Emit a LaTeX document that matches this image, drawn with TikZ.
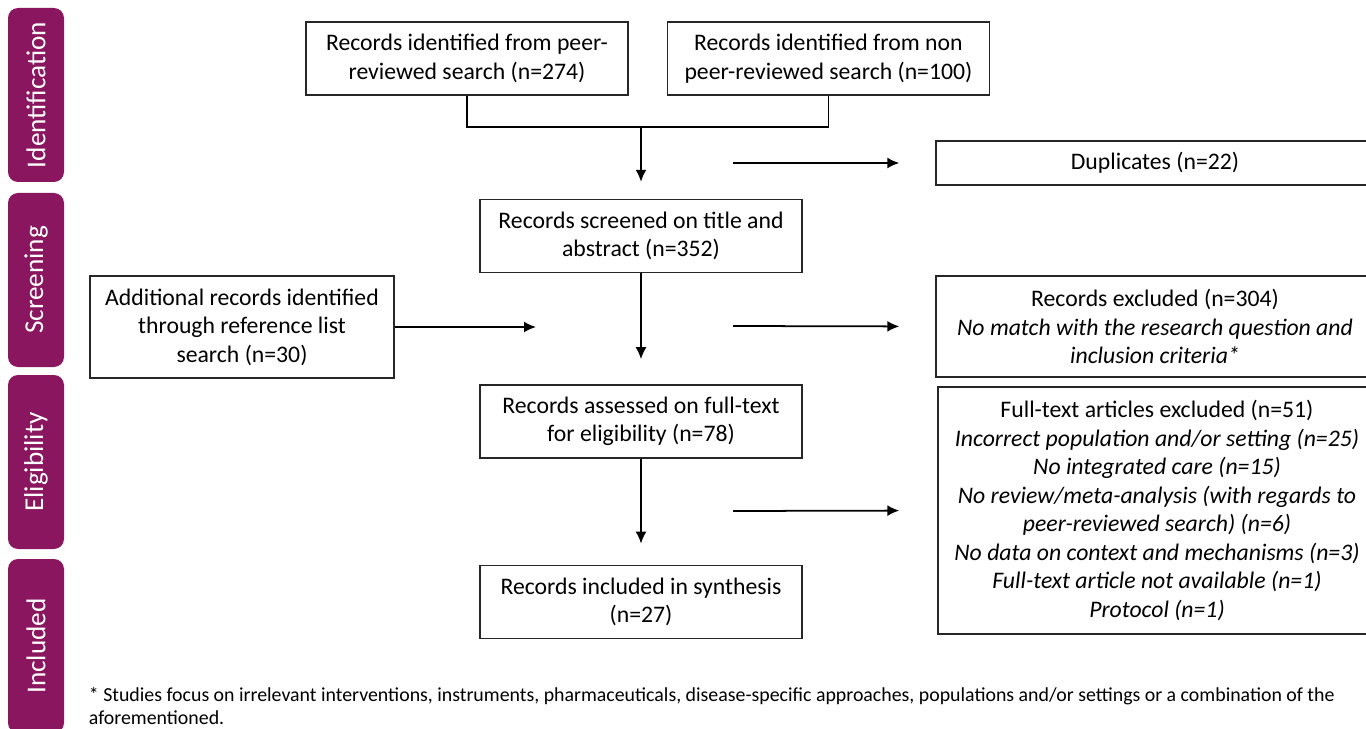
\documentclass[tikz,border=0pt]{standalone}
\usepackage{fontspec}
\setmainfont{Carlito}
\usetikzlibrary{arrows.meta}
\usetikzlibrary{positioning}
\definecolor{phasepurple}{RGB}{137,22,95}

\begin{document}
\begin{tikzpicture}[->,>={Latex[length=2.4mm,width=2.2mm]},line width=1pt,
  box/.style={draw=black!85,line width=0.8pt,minimum width=6.44cm,minimum height=1.46cm,
    align=center,inner sep=2pt,font=\fontsize{13.5}{16.2}\selectfont},
  side box/.style={box,minimum width=8.76cm},
  phase/.style={fill=phasepurple,rounded corners=0.2cm,rotate=90,minimum width=3.48cm,
    minimum height=1.12cm,text=white,font=\fontsize{15.5}{18}\selectfont}]

  \useasboundingbox (0,0) rectangle (27.32,-14.58);
  \clip (0,0) rectangle (27.32,-14.58);

  % phases
  \node[phase] (ident) at (0.72,-1.90) {Identification};
  \node[phase] (screen) at (0.72,-5.60) {Screening};
  \node[phase] (elig) at (0.72,-9.24) {Eligibility};
  \node[phase] (incl) at (0.72,-12.92) {Included};

  % records
  \node[box] (peer) at (9.34,-1.17) {Records identified from peer-\\reviewed search (n=274)};
  \node[box] (nonpeer) [right=0.76cm of peer] {Records identified from non\\peer-reviewed search (n=100)};
  \node[box] (screened) at (12.82,-4.72) {Records screened on title and\\abstract (n=352)};
  \node[box] (assessed) [below=2.22cm of screened] {Records assessed on full-text\\for eligibility (n=78)};
  \node[box] (included) [below=2.12cm of assessed] {Records included in synthesis\\(n=27)};
  \node[box,minimum width=6.08cm,minimum height=2.04cm] (additional) at (4.84,-6.54)
    {Additional records identified\\through reference list\\search (n=30)};

  % excluded
  \node[side box,minimum height=0.88cm] (dup) at (23.10,-3.26) {Duplicates (n=22)};
  \node[side box,minimum height=2.02cm] (excl) at (23.10,-6.53)
    {Records excluded (n=304)\\\textit{No match with the research question and}\\\textit{inclusion criteria*}};
  \node[side box,minimum height=4.94cm] (fulltext) at (23.14,-10.21)
    {Full-text articles excluded (n=51)\\
     \textit{Incorrect population and/or setting (n=25)}\\
     \textit{No integrated care (n=15)}\\
     \textit{No review/meta-analysis (with regards to}\\
     \textit{peer-reviewed search) (n=6)}\\
     \textit{No data on context and mechanisms (n=3)}\\
     \textit{Full-text article not available (n=1)}\\
     \textit{Protocol (n=1)}};

  \node[anchor=north west,inner sep=0pt,align=left,font=\fontsize{11.3}{12.6}\selectfont] (note) at (1.76,-13.74)
    {* Studies focus on irrelevant interventions, instruments, pharmaceuticals, disease-specific approaches, populations and/or settings or a combination of the\\aforementioned.};

  % connectors
  \coordinate (join) at (12.82,-2.54);
  \coordinate (addto) at (10.72,-6.54);
  \coordinate (dupfrom) at (14.66,-3.26);
  \coordinate (exclfrom) at (14.66,-6.52);
  \coordinate (ftfrom) at (14.66,-10.22);

  \draw[-,line width=0.8pt] (peer.south) |- (join) -| (nonpeer.south);
  \draw[shorten >=0.34cm] (join) -- (screened);
  \draw[shorten >=0.5cm] (screened) -- (assessed);
  \draw[shorten >=0.42cm] (assessed) -- (included);
  \draw (additional.east) -- (addto);
  \draw[shorten >=0.72cm] (dupfrom) -- (dup.west);
  \draw[shorten >=0.72cm] (exclfrom) -- (excl.west);
  \draw[shorten >=0.76cm] (ftfrom) -- (fulltext.west);
\end{tikzpicture}
\end{document}
